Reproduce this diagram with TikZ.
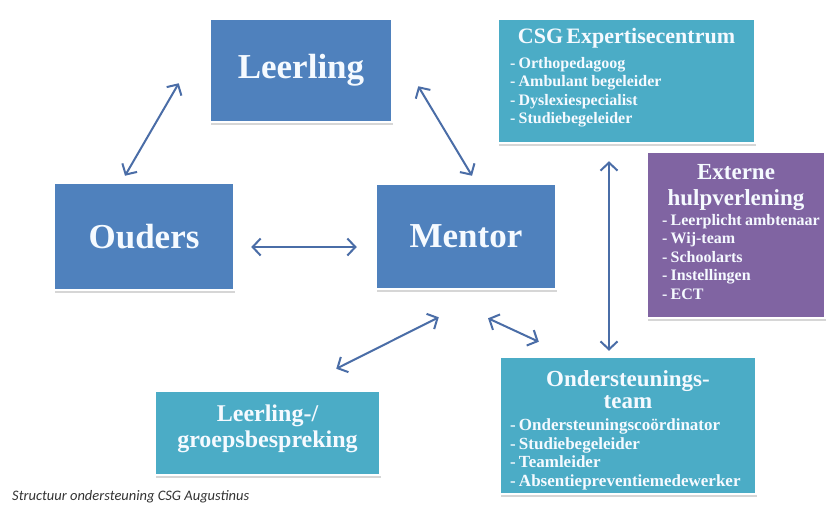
\documentclass[tikz,border=0pt]{standalone}
\usepackage{fontspec}
\setmainfont{Liberation Serif}
\newfontfamily\capfont{Carlito}
\usetikzlibrary{arrows.meta,shadows}
\definecolor{boxblue}{HTML}{4F81BD}
\definecolor{boxteal}{HTML}{4BACC6}
\definecolor{boxpurple}{HTML}{8064A2}
\definecolor{arrowblue}{HTML}{4A6DA7}
\definecolor{txtwhite}{HTML}{F5FAFF}
\begin{document}
\begin{tikzpicture}[x=1pt,y=-1pt,
  box/.style={rectangle, draw=white, line width=2.5pt, inner sep=0pt,
    drop shadow={shadow xshift=1pt, shadow yshift=-2.5pt, fill=black!45, opacity=0.35},
    text=txtwhite},
  bigbox/.style={box, fill=boxblue, font=\fontsize{35}{40}\selectfont\bfseries},
  listbox/.style={box, font=\bfseries},
  arr/.style={draw=arrowblue, line width=2pt,
    {Straight Barb[length=8pt,width=17pt]}-{Straight Barb[length=8pt,width=17pt]}}
]
\useasboundingbox (0,0) rectangle (827,504);
\fill[white] (0,0) rectangle (827,504);

% main boxes
\node[bigbox, minimum width=182, minimum height=103] (leerling) at (301,70.5) {Leerling};
\node[bigbox, minimum width=180, minimum height=107] (ouders) at (144,236.5) {Ouders};
\node[bigbox, minimum width=180, minimum height=105] (mentor) at (466,236.5) {Mentor};

% group meeting
\node[listbox, fill=boxteal, minimum width=225, minimum height=84, text width=215, align=center] (groep) at (267.5,433)
  {\fontsize{24}{26}\selectfont Leerling-/\\groepsbespreking\par\vspace*{9pt}};

% expertise centre
\node[listbox, fill=boxteal, minimum width=257, minimum height=124, text width=233] (csg) at (626.5,81)
  {{\centering\fontsize{22}{24}\selectfont CSG Expertisecentrum\par}\vspace{6.5pt}
   \raggedright\fontsize{16}{18.5}\selectfont
   - Orthopedagoog\par
   - Ambulant begeleider\par
   - Dyslexiespecialist\par
   - Studiebegeleider\par\vspace*{7pt}};

% external help
\node[listbox, fill=boxpurple, minimum width=178, minimum height=166, text width=148] (extern) at (736,235)
  {{\centering\fontsize{23}{26}\selectfont Externe\par hulpverlening\par}\vspace{1.5pt}
   \raggedright\fontsize{16}{18.5}\selectfont
   \hbox{- Leerplicht ambtenaar}\par
   - Wij-team\par
   - Schoolarts\par
   - Instellingen\par
   - ECT\par\vspace*{6pt}};

% support team
\node[listbox, fill=boxteal, minimum width=256, minimum height=137, text width=236] (onder) at (628,425.5)
  {{\centering\fontsize{23}{22}\selectfont \rule{0pt}{26pt}Ondersteunings-\par team\par}\vspace{3.5pt}
   \raggedright\fontsize{17}{18.5}\selectfont
   - Ondersteuningscoördinator\par
   - Studiebegeleider\par
   - Teamleider\par
   - Absentiepreventiemedewerker\par};

% connectors
\draw[arr] ([shift={(-19,-6)}]ouders.north) -- ([shift={(-30,-40)}]leerling.south west);
\draw[arr] ([shift={(25,-37)}]leerling.south east) -- ([shift={(6,-7)}]mentor.north);
\draw[arr] ([shift={(16,10.5)}]ouders.east) -- ([shift={(-18,10.5)}]mentor.west);
\draw[arr] ([shift={(64,27)}]mentor.south west) -- ([shift={(-45,-21)}]groep.north east);
\draw[arr] ([shift={(22,28)}]mentor.south) -- ([shift={(40,-14)}]onder.north west);
\draw[arr] ([shift={(-17.5,17)}]csg.south) -- ([shift={(-19,-5)}]onder.north);

% caption
\node[anchor=base west, inner sep=0pt, text=black!80, font=\capfont\itshape\fontsize{14.5}{16}\selectfont] (caption) at (12,500)
  {Structuur ondersteuning CSG Augustinus};
\end{tikzpicture}
\end{document}
